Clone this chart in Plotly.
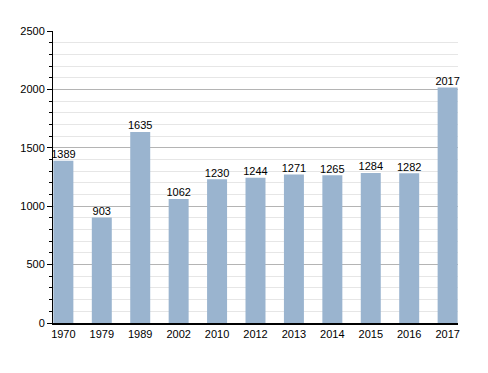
import plotly.graph_objects as go

years = ["1970", "1979", "1989", "2002", "2010", "2012", "2013", "2014", "2015", "2016", "2017"]
population = [1389, 903, 1635, 1062, 1230, 1244, 1271, 1265, 1284, 1282, 2017]
y_ticks = [0, 500, 1000, 1500, 2000, 2500]

fig = go.Figure()
fig.add_trace(go.Bar(
    x=years, y=population,
    marker=dict(color="#9ab4cf", line=dict(width=0)),
    width=0.52,
    hoverinfo="x+y",
))
fig.add_trace(go.Scatter(
    x=years, y=population,
    mode="text",
    text=[str(v) for v in population],
    textposition="top center",
    textfont=dict(family="Liberation Sans, Arial", size=11, color="#000"),
    cliponaxis=False,
    hoverinfo="skip",
))

fig.update_layout(
    width=488, height=373,
    margin=dict(l=42, r=38, t=23, b=58),
    paper_bgcolor="white", plot_bgcolor="white",
    showlegend=False,
    font=dict(family="Liberation Sans, Arial", size=11, color="#000"),
    xaxis=dict(
        type="category", range=[-0.27, 10.27],
        showline=True, linecolor="#000", linewidth=1.5,
        ticks="", showgrid=False, tickfont=dict(size=11),
    ),
    yaxis=dict(
        range=[0, 2500], tickvals=y_ticks,
        showline=True, linecolor="#000", linewidth=1,
        ticks="outside", ticklen=5, tickcolor="#000",
        showgrid=True, gridcolor="#b4b4b4", gridwidth=1,
        zeroline=False, tickfont=dict(size=11),
        minor=dict(dtick=100, ticks="outside", ticklen=3, tickcolor="#000",
                   showgrid=True, gridcolor="#e6e6e6", gridwidth=1),
    ),
)

fig.write_html("out.html")
